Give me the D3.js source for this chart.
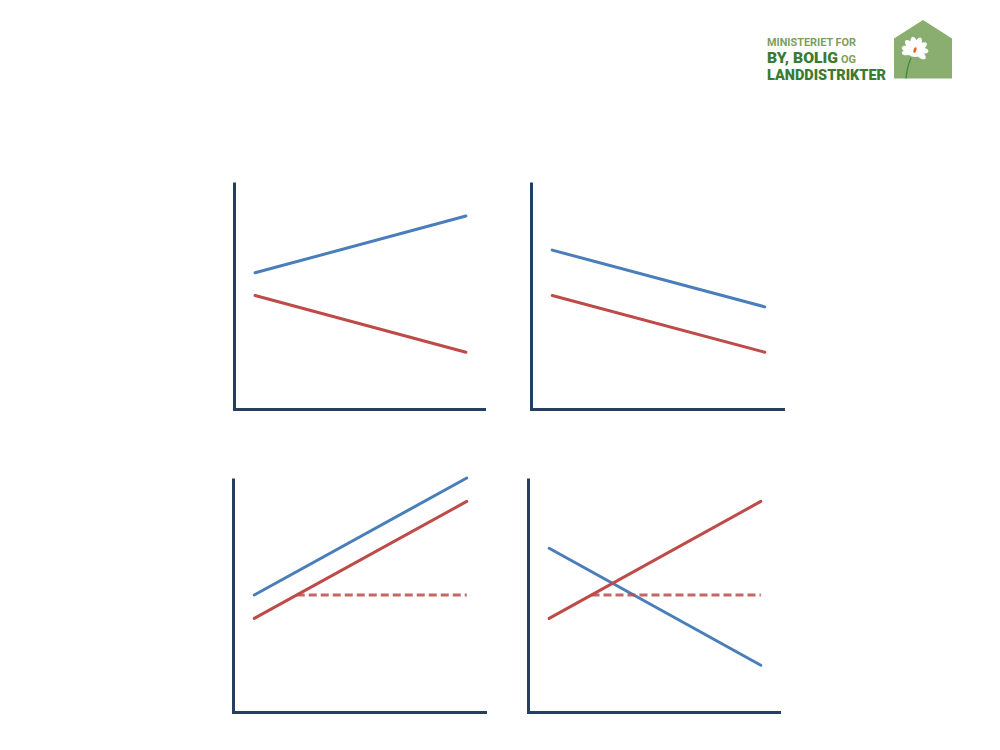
<!DOCTYPE html>
<html>
<head>
<meta charset="utf-8">
<script src="https://cdn.jsdelivr.net/npm/d3@7"></script>
<style>
  html, body { margin: 0; padding: 0; background: #ffffff; }
  svg { display: block; }
</style>
</head>
<body>
<svg id="chart" width="1000" height="750"></svg>
<script>
// ---- data ----
const panels = ["A", "B", "C", "D"];
const xPoints = [0, 1];                 // start / end of each line
const blueValues = {A: [60, 85], B: [70, 45], C: [50, 100], D: [70, 20]};
const redValues  = {A: [50, 25], B: [50, 25], C: [40, 90], D: [40, 90]};
const dashedX = {C: [0.2, 1], D: [0.2, 1]};
const dashedValues = {C: [50, 50], D: [50, 50]};
const logoLines = ["MINISTERIET FOR", "BY, BOLIG", "OG", "LANDDISTRIKTER"];

// ---- layout ----
const layout = {
  A: {left: 234, right: 487, top: 182, bottom: 409},
  B: {left: 531, right: 786, top: 182, bottom: 409},
  C: {left: 233, right: 488, top: 478, bottom: 712},
  D: {left: 528, right: 782, top: 478, bottom: 712}
};
const blue = "#4a7ebb", red = "#be4b48", axisCol = "#243f60";

const svg = d3.select("#chart");

panels.forEach(p => {
  const L = layout[p];
  const x = d3.scaleLinear().domain([-0.1, 1.1]).range([L.left, L.right]);
  const y = d3.scaleLinear().domain([0, 100]).range([L.bottom, L.top]);
  const g = svg.append("g");
  const line = d3.line().x(d => x(d[0])).y(d => y(d[1]));

  const xAxis = d3.axisBottom(x).tickValues([]).tickSizeOuter(0);
  const yAxis = d3.axisLeft(y).tickValues([]).tickSizeOuter(0);
  const ga = g.append("g").attr("transform", `translate(-1.5,${y(0)})`).call(xAxis);
  const gb = g.append("g").attr("transform", `translate(${x(-0.1)},0)`).call(yAxis);
  ga.select(".domain").attr("stroke", axisCol).attr("stroke-width", 3).attr("stroke-linecap", "butt");
  gb.select(".domain").attr("stroke", axisCol).attr("stroke-width", 3).attr("stroke-linecap", "butt");

  g.append("path")
    .datum(xPoints.map((xv, i) => [xv, blueValues[p][i]]))
    .attr("d", line).attr("fill", "none").attr("stroke", blue)
    .attr("stroke-width", 3).attr("stroke-linecap", "round");

  if (dashedValues[p]) {
    g.append("path")
      .datum(dashedX[p].map((xv, i) => [xv, dashedValues[p][i]]))
      .attr("d", line).attr("fill", "none").attr("stroke", red)
      .attr("stroke-opacity", 0.85)
      .attr("stroke-width", 3).attr("stroke-dasharray", "8,4");
  }

  g.append("path")
    .datum(xPoints.map((xv, i) => [xv, redValues[p][i]]))
    .attr("d", line).attr("fill", "none").attr("stroke", red)
    .attr("stroke-width", 3).attr("stroke-linecap", "round");
});

// ---- logo ----
const logo = svg.append("g");
const lightGreen = "#7b9f5d", darkGreen = "#3b7a31", houseGreen = "#8aae6f";
logo.append("text").text(logoLines[0])
  .attr("x", 767).attr("y", 45.5)
  .attr("font-family", "Roboto, 'DejaVu Sans'").attr("font-weight", "bold")
  .attr("font-size", 11).attr("fill", lightGreen)
  .attr("textLength", 89).attr("lengthAdjust", "spacingAndGlyphs");
logo.append("text").text(logoLines[1])
  .attr("x", 767).attr("y", 62.5)
  .attr("font-family", "Roboto, 'DejaVu Sans'").attr("font-weight", "900")
  .attr("font-size", 15).attr("fill", darkGreen)
  .attr("textLength", 71).attr("lengthAdjust", "spacingAndGlyphs");
logo.append("text").text(logoLines[2])
  .attr("x", 841).attr("y", 62.5)
  .attr("font-family", "Roboto, 'DejaVu Sans'").attr("font-weight", "bold")
  .attr("font-size", 10).attr("fill", lightGreen)
  .attr("textLength", 15).attr("lengthAdjust", "spacingAndGlyphs");
logo.append("text").text(logoLines[3])
  .attr("x", 767).attr("y", 79.5)
  .attr("font-family", "Roboto, 'DejaVu Sans'").attr("font-weight", "900")
  .attr("font-size", 15).attr("fill", darkGreen)
  .attr("textLength", 119).attr("lengthAdjust", "spacingAndGlyphs");

// house
logo.append("path")
  .attr("d", "M894,38.5 L923,20 L952,38.5 L952,78.5 L894,78.5 Z")
  .attr("fill", houseGreen);
// stem
logo.append("path")
  .attr("d", "M911,58 Q907,67 906,78.5")
  .attr("fill", "none").attr("stroke", "#3d8a3a").attr("stroke-width", 1.3);
// petals
const petalAngles = [-170, -135, -100, -65, -30, 5, 40, 165];
const fc = [915, 50];
petalAngles.forEach(a => {
  logo.append("ellipse")
    .attr("cx", 0).attr("cy", 0).attr("rx", 6.5).attr("ry", 3.2)
    .attr("transform", `translate(${fc[0]},${fc[1]}) rotate(${a}) translate(7,0)`)
    .attr("fill", "#ffffff");
});
logo.append("ellipse").attr("cx", fc[0]).attr("cy", fc[1] + 1)
  .attr("rx", 8).attr("ry", 6).attr("fill", "#ffffff");
logo.append("ellipse").attr("cx", fc[0]).attr("cy", fc[1])
  .attr("rx", 1.4).attr("ry", 2.8).attr("fill", "#e8641c")
  .attr("transform", `rotate(20,${fc[0]},${fc[1]})`);
</script>
</body>
</html>
